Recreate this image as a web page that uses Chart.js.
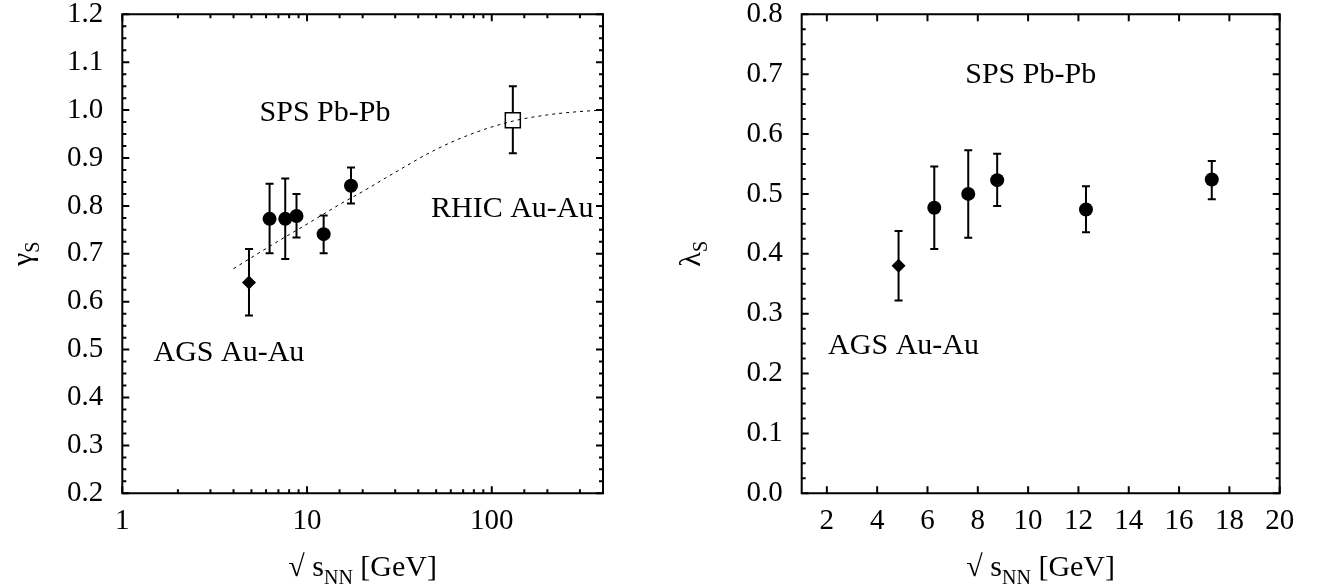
<!DOCTYPE html>
<html>
<head>
<meta charset="utf-8">
<script src="https://cdn.jsdelivr.net/npm/chart.js@4.4.0/dist/chart.umd.min.js"></script>
<style>
  html, body { margin: 0; padding: 0; background: #fff; }
  #wrap { position: relative; width: 1329px; height: 588px; }
  .box { position: absolute; top: 0; height: 588px; }
</style>
</head>
<body>
<div id="wrap">
  <div class="box" style="left:0;width:664px"><canvas id="gammaChart" width="664" height="588"></canvas></div>
  <div class="box" style="left:664px;width:665px"><canvas id="lambdaChart" width="665" height="588"></canvas></div>
</div>
<script>
// beam energies (sqrt s_NN, GeV)
const agsEnergy = [4.85];
const spsEnergy = [6.27, 7.62, 8.77, 12.3, 17.3];
const rhicEnergy = [130];

// gamma_S (left panel)
const gammaAgs = [0.640];
const gammaAgsLo = [0.571];
const gammaAgsHi = [0.710];
const gammaSps = [0.773, 0.773, 0.779, 0.741, 0.842];
const gammaSpsLo = [0.701, 0.689, 0.734, 0.701, 0.805];
const gammaSpsHi = [0.846, 0.857, 0.825, 0.780, 0.880];
const gammaRhic = [0.979];
const gammaRhicLo = [0.910];
const gammaRhicHi = [1.050];

// dotted trend line
const trendX = [4, 6, 8, 10, 15, 20, 30, 50, 80, 130, 200, 300, 400];
const trendY = [0.669, 0.711, 0.740, 0.762, 0.803, 0.830, 0.870, 0.918, 0.952, 0.977, 0.990, 0.997, 1.000];

// lambda_S (right panel)
const lambdaAgs = [0.380];
const lambdaAgsLo = [0.322];
const lambdaAgsHi = [0.438];
const lambdaSps = [0.477, 0.500, 0.523, 0.474, 0.524];
const lambdaSpsLo = [0.408, 0.427, 0.480, 0.436, 0.491];
const lambdaSpsHi = [0.546, 0.573, 0.567, 0.513, 0.555];

// tick labels
const gammaTicks = [0.2, 0.3, 0.4, 0.5, 0.6, 0.7, 0.8, 0.9, 1.0, 1.1, 1.2];
const lambdaTicks = [0.0, 0.1, 0.2, 0.3, 0.4, 0.5, 0.6, 0.7, 0.8];
const logTickLabels = [1, 10, 100];
const linTickLabels = [2, 4, 6, 8, 10, 12, 14, 16, 18, 20];

// text labels placed in data coordinates
const gammaNotes = ['SPS Pb-Pb', 'RHIC Au-Au', 'AGS Au-Au'];
const gammaNoteX = [5.53, 46.9, 1.475];
const gammaNoteY = [0.977, 0.777, 0.477];
const lambdaNotes = ['SPS Pb-Pb', 'AGS Au-Au'];
const lambdaNoteX = [7.5, 2.05];
const lambdaNoteY = [0.685, 0.233];

const FONT = "'Liberation Serif', 'Times New Roman', serif";

const pts = (xs, ys) => xs.map((x, i) => ({x: x, y: ys[i]}));

// error bars drawn under the markers
const errorBars = {
  id: 'errorBars',
  beforeDatasetsDraw(chart) {
    const ctx = chart.ctx;
    const ys = chart.scales.y;
    ctx.save();
    ctx.strokeStyle = '#000';
    ctx.lineWidth = 2;
    chart.data.datasets.forEach((ds, i) => {
      if (!ds.errLo) return;
      chart.getDatasetMeta(i).data.forEach((el, j) => {
        const top = ys.getPixelForValue(ds.errHi[j]);
        const bot = ys.getPixelForValue(ds.errLo[j]);
        ctx.beginPath();
        ctx.moveTo(el.x, top); ctx.lineTo(el.x, bot);
        ctx.moveTo(el.x - 4, top); ctx.lineTo(el.x + 4, top);
        ctx.moveTo(el.x - 4, bot); ctx.lineTo(el.x + 4, bot);
        ctx.stroke();
      });
    });
    ctx.restore();
  }
};

// box frame with inward ticks on all four sides
const frame = {
  id: 'frame',
  afterDatasetsDraw(chart) {
    const ctx = chart.ctx;
    const a = chart.chartArea;
    const xs = chart.scales.x, ys = chart.scales.y;
    ctx.save();
    ctx.strokeStyle = '#000';
    ctx.lineWidth = 2;
    ctx.beginPath();
    ctx.rect(a.left, a.top, a.right - a.left, a.bottom - a.top);
    ctx.stroke();

    const xMarks = [];
    xs.ticks.forEach(t => {
      const v = t.value;
      let major = true;
      if (xs.type === 'logarithmic') {
        const l = Math.log10(v);
        major = Math.abs(l - Math.round(l)) < 1e-9;
      }
      xMarks.push([v, major ? 7 : 4]);
    });
    const yMarks = [];
    const yt = ys.ticks.map(t => t.value);
    yt.forEach((v, i) => {
      yMarks.push([v, 7]);
      if (i < yt.length - 1) {
        const step = (yt[i + 1] - v) / 4;
        for (let k = 1; k < 4; k++) yMarks.push([v + k * step, 4]);
      }
    });

    ctx.beginPath();
    xMarks.forEach(([v, len]) => {
      const px = xs.getPixelForValue(v);
      ctx.moveTo(px, a.bottom); ctx.lineTo(px, a.bottom - len);
      ctx.moveTo(px, a.top); ctx.lineTo(px, a.top + len);
    });
    yMarks.forEach(([v, len]) => {
      const py = ys.getPixelForValue(v);
      ctx.moveTo(a.left, py); ctx.lineTo(a.left + len, py);
      ctx.moveTo(a.right, py); ctx.lineTo(a.right - len, py);
    });
    ctx.stroke();
    ctx.restore();
  },
  afterDraw(chart) {
    const ctx = chart.ctx;
    const a = chart.chartArea;
    const o = chart.options.plugins.frame;
    const xs = chart.scales.x, ys = chart.scales.y;
    ctx.save();
    ctx.fillStyle = '#000';
    ctx.textBaseline = 'alphabetic';
    ctx.textAlign = 'left';

    // notes
    ctx.font = '30px ' + FONT;
    o.notes.forEach((txt, i) => {
      ctx.fillText(txt, xs.getPixelForValue(o.noteX[i]), ys.getPixelForValue(o.noteY[i]));
    });

    // x title: sqrt s_NN [GeV]
    const big = '30px ' + FONT, small = '20px ' + FONT;
    ctx.font = big;
    const w1 = ctx.measureText('\u221A s').width;
    const w3 = ctx.measureText(' [GeV]').width;
    ctx.font = small;
    const w2 = ctx.measureText('NN').width;
    let x0 = (a.left + a.right) / 2 - (w1 + w2 + w3) / 2;
    const base = a.bottom + 83;
    ctx.font = big;
    ctx.fillText('\u221A s', x0, base);
    ctx.font = small;
    ctx.fillText('NN', x0 + w1, base + 8);
    ctx.font = big;
    ctx.fillText(' [GeV]', x0 + w1 + w2, base);

    // y title: greek letter with subscript S, rotated
    ctx.translate(o.yTitleX, (a.top + a.bottom) / 2);
    ctx.rotate(-Math.PI / 2);
    ctx.font = '30px ' + FONT;
    const g = ctx.measureText(o.greek).width;
    ctx.font = small;
    const s = ctx.measureText('S').width;
    ctx.font = '30px ' + FONT;
    ctx.fillText(o.greek, -(g + s) / 2, 0);
    ctx.font = small;
    ctx.fillText('S', -(g + s) / 2 + g, 7);
    ctx.restore();
  }
};

function fixAxis(size, vertical) {
  return function (scale) {
    if (vertical) { scale.width = size; scale.paddingTop = 0; scale.paddingBottom = 0; }
    else { scale.height = size; scale.paddingLeft = 0; scale.paddingRight = 0; }
  };
}

const tickFont = {family: FONT, size: 29, lineHeight: 1};

function markerSet(label, xs, ys, lo, hi, style, radius, fill) {
  return {
    type: 'scatter',
    label: label,
    data: pts(xs, ys),
    errLo: lo,
    errHi: hi,
    pointStyle: style,
    pointRadius: radius,
    pointHoverRadius: radius,
    pointBackgroundColor: fill,
    pointBorderColor: '#000',
    pointBorderWidth: style === 'rect' ? 1.5 : 0,
    showLine: false
  };
}

new Chart(document.getElementById('gammaChart').getContext('2d'), {
  type: 'scatter',
  data: {
    datasets: [
      {
        type: 'line',
        label: 'trend',
        data: pts(trendX, trendY),
        borderColor: '#000',
        borderWidth: 1,
        borderDash: [3, 4],
        pointRadius: 0,
        cubicInterpolationMode: 'monotone',
        fill: false
      },
      markerSet('AGS Au-Au', agsEnergy, gammaAgs, gammaAgsLo, gammaAgsHi, 'rectRot', 7, '#000'),
      markerSet('SPS Pb-Pb', spsEnergy, gammaSps, gammaSpsLo, gammaSpsHi, 'circle', 7, '#000'),
      markerSet('RHIC Au-Au', rhicEnergy, gammaRhic, gammaRhicLo, gammaRhicHi, 'rect', 10.6, '#fff')
    ]
  },
  options: {
    responsive: false,
    animation: false,
    devicePixelRatio: 1,
    layout: {padding: {left: 0, top: 14.3, right: 61, bottom: 0}},
    plugins: {
      legend: {display: false},
      tooltip: {enabled: false},
      frame: {notes: gammaNotes, noteX: gammaNoteX, noteY: gammaNoteY, greek: '\u03B3', yTitleX: 32}
    },
    scales: {
      x: {
        type: 'logarithmic',
        min: 1,
        max: 400,
        grid: {display: false, drawTicks: false},
        border: {display: false},
        afterFit: fixAxis(94.7, false),
        ticks: {
          autoSkip: false,
          maxRotation: 0,
          padding: 14,
          color: '#000',
          font: tickFont,
          callback: v => logTickLabels.includes(v) ? String(v) : ''
        }
      },
      y: {
        min: gammaTicks[0],
        max: gammaTicks[gammaTicks.length - 1],
        grid: {display: false, drawTicks: false},
        border: {display: false},
        afterFit: fixAxis(122.3, true),
        afterBuildTicks: s => { s.ticks = gammaTicks.map(v => ({value: v})); },
        ticks: {
          padding: 19,
          color: '#000',
          font: tickFont,
          callback: v => Number(v).toFixed(1)
        }
      }
    }
  },
  plugins: [errorBars, frame]
});

new Chart(document.getElementById('lambdaChart').getContext('2d'), {
  type: 'scatter',
  data: {
    datasets: [
      markerSet('AGS Au-Au', agsEnergy, lambdaAgs, lambdaAgsLo, lambdaAgsHi, 'rectRot', 7, '#000'),
      markerSet('SPS Pb-Pb', spsEnergy, lambdaSps, lambdaSpsLo, lambdaSpsHi, 'circle', 7, '#000')
    ]
  },
  options: {
    responsive: false,
    animation: false,
    devicePixelRatio: 1,
    layout: {padding: {left: 0, top: 14.3, right: 49.3, bottom: 0}},
    plugins: {
      legend: {display: false},
      tooltip: {enabled: false},
      frame: {notes: lambdaNotes, noteX: lambdaNoteX, noteY: lambdaNoteY, greek: '\u03BB', yTitleX: 36}
    },
    scales: {
      x: {
        type: 'linear',
        min: 1,
        max: 20,
        grid: {display: false, drawTicks: false},
        border: {display: false},
        afterFit: fixAxis(94.7, false),
        afterBuildTicks: s => { s.ticks = linTickLabels.map(v => ({value: v})); },
        ticks: {
          autoSkip: false,
          maxRotation: 0,
          padding: 14,
          color: '#000',
          font: tickFont,
          callback: v => String(v)
        }
      },
      y: {
        min: lambdaTicks[0],
        max: lambdaTicks[lambdaTicks.length - 1],
        grid: {display: false, drawTicks: false},
        border: {display: false},
        afterFit: fixAxis(137.7, true),
        afterBuildTicks: s => { s.ticks = lambdaTicks.map(v => ({value: v})); },
        ticks: {
          padding: 19,
          color: '#000',
          font: tickFont,
          callback: v => Number(v).toFixed(1)
        }
      }
    }
  },
  plugins: [errorBars, frame]
});
</script>
</body>
</html>
